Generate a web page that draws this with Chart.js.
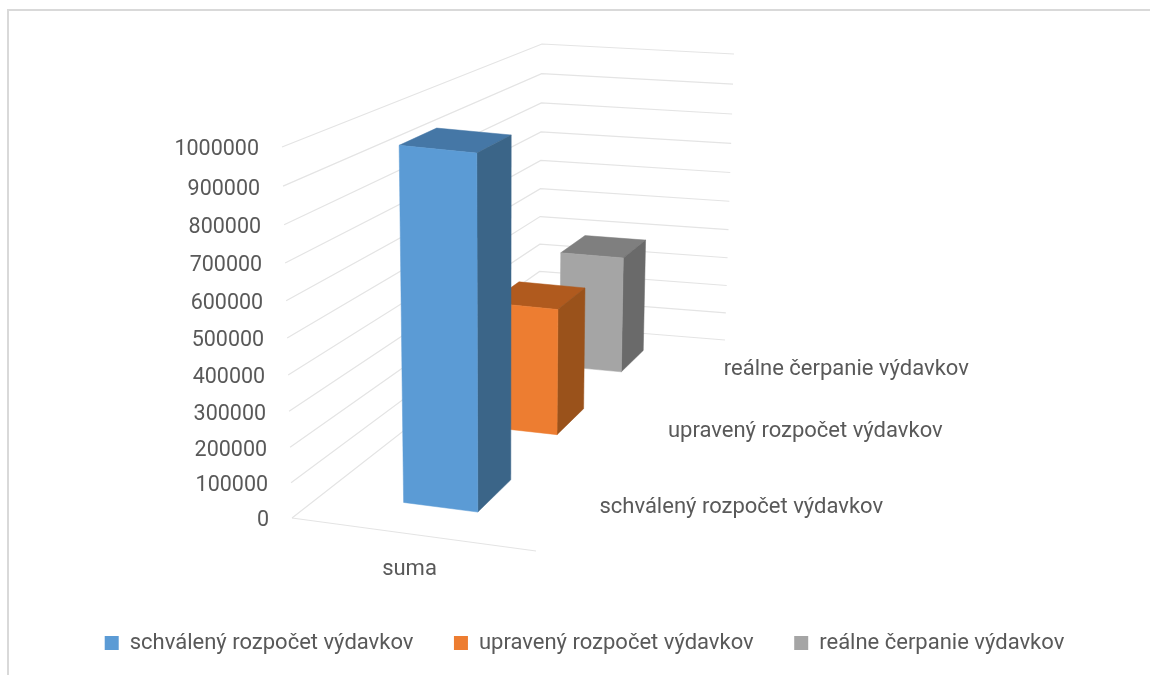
<!DOCTYPE html>
<html lang="sk">
<head>
<meta charset="utf-8">
<title>Rozpočet výdavkov</title>
<script src="https://cdn.jsdelivr.net/npm/chart.js@4"></script>
<style>
  html, body { margin: 0; background: #fff; overflow: hidden; }
  #frame { position: absolute; left: 7px; top: 9px; right: 0; bottom: 0; border-left: 2px solid #d9d9d9; border-top: 2px solid #d9d9d9; }
  #chart { position: absolute; left: 0; top: 0; }
</style>
</head>
<body>
<div id="frame"></div>
<canvas id="chart" width="1150" height="675"></canvas>
<script>
// Dáta
const categories = ['suma'];
const seriesNames = ['schválený rozpočet výdavkov', 'upravený rozpočet výdavkov', 'reálne čerpanie výdavkov'];
const schvaleny = [990000];
const upraveny = [395000];
const realne = [393000];
const frontColors = ['#5b9bd5', '#ed7d31', '#a5a5a5'];
const sideColors = ['#3b6588', '#9a521b', '#6a6a6a'];
const topColors = ['#4577a6', '#b05a1e', '#7f7f7f'];

const FONT = { family: 'Roboto', size: 22 };
const TEXT = '#595959';
const GRID = '#e4e4e4';

// 3D krabica grafu: rohy podlahy a stropu na obrazovke
const floor = { fl: [292, 518], fr: [536, 551], bl: [539, 325], br: [725, 340] };
const ceil = { fl: [282, 147], fr: [538, 174], bl: [542, 44], br: [734, 54] };
const PERSPECTIVE = 1.36;
const PERSPECTIVE_UP = 0.942;
const BAR_DEPTH = 0.065;

function bilinear(q, u, w) {
  return [0, 1].map(i =>
    (1 - u) * (1 - w) * q.fl[i] + u * (1 - w) * q.fr[i] + (1 - u) * w * q.bl[i] + u * w * q.br[i]);
}

// u = šírka, v = hodnota, t = hĺbka (všetko 0..1)
function project(u, v, t) {
  const w = PERSPECTIVE * t / (1 + (PERSPECTIVE - 1) * t);
  const h = PERSPECTIVE_UP * v / (1 + (PERSPECTIVE_UP - 1) * v);
  const a = bilinear(floor, u, w);
  const b = bilinear(ceil, u, w);
  return [a[0] + (b[0] - a[0]) * h, a[1] + (b[1] - a[1]) * h];
}

function polygon(ctx, pts, color) {
  ctx.beginPath();
  pts.forEach((p, i) => (i ? ctx.lineTo(p[0], p[1]) : ctx.moveTo(p[0], p[1])));
  ctx.closePath();
  ctx.fillStyle = color;
  ctx.fill();
  ctx.strokeStyle = color;
  ctx.lineWidth = 0.5;
  ctx.stroke();
}

function polyline(ctx, pts) {
  ctx.beginPath();
  pts.forEach((p, i) => (i ? ctx.lineTo(p[0], p[1]) : ctx.moveTo(p[0], p[1])));
  ctx.stroke();
}

// kategóriová os na výšku ide zhora nadol: prvá séria je vpredu
function depthOf(scale, i) {
  return (scale.getPixelForValue(i) - scale.top) / scale.height;
}

function levelOf(scale, value) {
  return (scale.bottom - scale.getPixelForValue(value)) / scale.height;
}

const box3d = {
  id: 'box3d',
  // mriežka na stenách a podlaha
  beforeDatasetsDraw(chart) {
    const { ctx, scales: { y } } = chart;
    ctx.save();
    ctx.strokeStyle = GRID;
    ctx.lineWidth = 1.2;
    y.ticks.forEach(tick => {
      const v = levelOf(y, tick.value);
      polyline(ctx, [project(0, v, 0), project(0, v, 1), project(1, v, 1)]);
    });
    polyline(ctx, [project(0, 0, 0), project(1, 0, 0)]);
    ctx.restore();
  },
  // stĺpce: hodnota ide cez os y, hĺbka cez os depth
  beforeDatasetDraw(chart, args) {
    const { ctx, chartArea, scales: { y, depth } } = chart;
    const i = args.index;
    const bar = args.meta.data[0];
    const W = chartArea.right - chartArea.left;
    const u0 = (bar.x - bar.width / 2 - chartArea.left) / W - 0.01;
    const u1 = (bar.x + bar.width / 2 - chartArea.left) / W - 0.01;
    const v = (y.bottom - bar.y) / y.height;
    const t = depthOf(depth, i);
    const t0 = t - BAR_DEPTH;
    const t1 = t + BAR_DEPTH;
    ctx.save();
    polygon(ctx, [project(u0, v, t0), project(u1, v, t0), project(u1, v, t1), project(u0, v, t1)], topColors[i]);
    polygon(ctx, [project(u1, v, t0), project(u1, v, t1), project(u1, 0, t1), project(u1, 0, t0)], sideColors[i]);
    polygon(ctx, [project(u0, v, t0), project(u1, v, t0), project(u1, 0, t0), project(u0, 0, t0)], frontColors[i]);
    ctx.restore();
    return false;
  },
  // popisy osí idú po šikmých hranách
  afterDraw(chart) {
    const { ctx, scales: { y, depth } } = chart;
    ctx.save();
    ctx.fillStyle = TEXT;
    ctx.textBaseline = 'middle';
    ctx.font = '21.5px ' + FONT.family;
    ctx.textAlign = 'right';
    y.ticks.forEach(tick => {
      const p = project(0, levelOf(y, tick.value), 0);
      ctx.fillText(tick.label, p[0] - 23, p[1] + 3);
    });
    ctx.font = FONT.size + 'px ' + FONT.family;
    ctx.textAlign = 'left';
    depth.getLabels().forEach((label, i) => {
      const p = project(1, 0, depthOf(depth, i));
      ctx.fillText(label, p[0] + 23, p[1] + 2);
    });
    ctx.restore();
  }
};

new Chart(document.getElementById('chart'), {
  type: 'bar',
  data: {
    labels: categories,
    datasets: [schvaleny, upraveny, realne].map((data, i) => ({
      label: seriesNames[i],
      data,
      backgroundColor: frontColors[i],
      grouped: false,
      categoryPercentage: 1,
      barPercentage: 0.314
    }))
  },
  options: {
    responsive: false,
    animation: false,
    layout: { padding: { top: 148, left: 19, right: 0, bottom: 11 } },
    plugins: {
      tooltip: { enabled: false },
      legend: {
        position: 'bottom',
        labels: { boxWidth: 14, boxHeight: 14, padding: 40.5, color: TEXT, font: FONT }
      }
    },
    scales: {
      x: {
        grid: { display: false },
        border: { display: false },
        ticks: { padding: 38, color: TEXT, font: FONT, maxRotation: 0 },
        afterFit: s => { s.height = 81; }
      },
      y: {
        min: 0,
        max: 1000000,
        grid: { display: false },
        border: { display: false },
        ticks: { display: false, stepSize: 100000, callback: v => String(v) },
        afterFit: s => { s.width = 263; }
      },
      depth: {
        type: 'category',
        axis: 'y',
        position: 'right',
        labels: seriesNames,
        offset: true,
        grid: { display: false },
        border: { display: false },
        ticks: { display: false },
        afterFit: s => { s.width = 613; }
      }
    }
  },
  plugins: [box3d]
});
</script>
</body>
</html>
